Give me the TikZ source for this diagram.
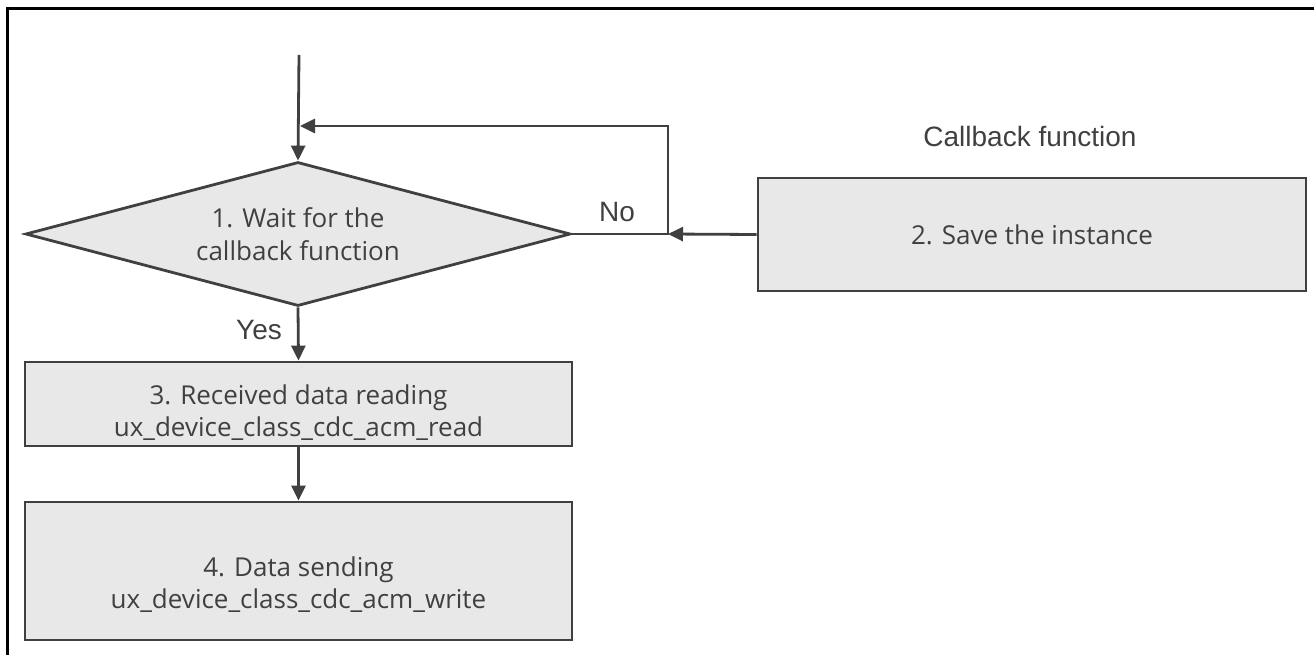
\documentclass[tikz,border=0pt]{standalone}
\usepackage{fontspec}
\setmainfont{Open Sans}
\newfontfamily\labelfont{Liberation Sans}
\usetikzlibrary{arrows.meta,shapes.geometric}

\definecolor{linegray}{HTML}{404040}
\definecolor{boxgray}{HTML}{E8E8E8}

\begin{document}
\begin{tikzpicture}[x=1pt, y=-1pt, >={Triangle[length=15pt,width=14pt]},
    conn/.style={line width=2.8pt, draw=linegray, ->},
    stepbox/.style={rectangle, draw=linegray, fill=boxgray, line width=2.8pt, inner sep=0pt},
    steptext/.style={text=linegray, font=\fontsize{26}{32}\selectfont, align=center, inner sep=0pt},
    decision/.style={diamond, draw=linegray, fill=boxgray, line width=2.8pt, text=linegray,
        font=\fontsize{26}{33}\selectfont, align=center, inner sep=0pt,
        minimum width=545pt, minimum height=144pt, aspect=3.78},
    tag/.style={text=linegray, font=\labelfont\fontsize{28}{32}\selectfont, inner sep=0pt}]
    \useasboundingbox (0,0) rectangle (1314,655);

    % frame (top and left only)
    \draw[line width=3pt, black] (7,655) -- (7,9) -- (1314,9);

    % Flow steps
    \node[decision] (wait) at (298,234) {1. Wait for the\\callback function};
    \node[stepbox, minimum width=548pt, minimum height=113pt] (save) at (1032,234.5) {};
    \node[steptext] (savetext) at (save.center) {2. Save the instance};
    \node[stepbox, minimum width=547pt, minimum height=84pt] (read) at (298.5,404) {};
    \node[steptext] (readtext) at ([yshift=-9pt]read.center) {3. Received data reading\\ux\_device\_class\_cdc\_acm\_read};
    \node[stepbox, minimum width=547pt, minimum height=138pt] (send) at (298.5,571) {};
    \node[steptext] (sendtext) at ([yshift=-14pt]send.center) {4. Data sending\\ux\_device\_class\_cdc\_acm\_write};

    % Labels
    \node[tag] (cbtitle) at (1030,136) {Callback function};
    \node[tag] (no) at (617,212) {No};
    \node[tag] (yes) at (259,330) {Yes};

    % Connectors
    \coordinate (start) at (299,55);
    \coordinate (join) at (668,234);
    \coordinate (back) at (300,126);
    \draw[conn] (start) -- (wait.north);
    \draw[conn] (wait.east) -- (join) -- (join |- back) -- (back);
    \draw[conn] (save.west) -- (join);
    \draw[conn] (wait.south) -- (read.north);
    \draw[conn] (read.south) -- (send.north);
\end{tikzpicture}
\end{document}
